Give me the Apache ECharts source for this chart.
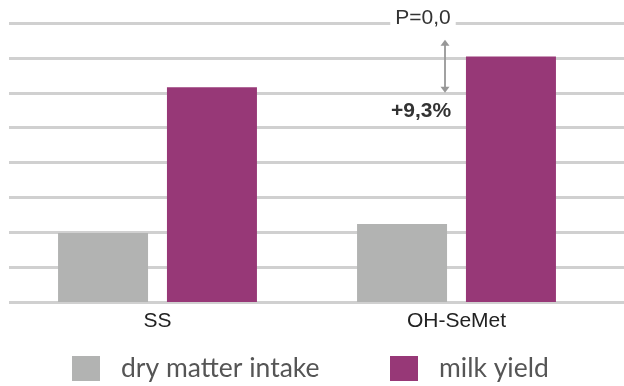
<!DOCTYPE html>
<html>
<head>
<meta charset="utf-8">
<style>
  html, body { margin: 0; padding: 0; background: #fff; }
  #chart { width: 624px; height: 386px; }
</style>
<script src="https://cdn.jsdelivr.net/npm/echarts@6/dist/echarts.min.js"></script>
</head>
<body>
<div id="chart"></div>
<script>
// Groups and series values
const categories = ['SS', 'OH-SeMet'];
const dryMatterIntake = [9.9, 11.2];
const milkYield = [30.8, 35.2];
const seriesNames = ['dry matter intake', 'milk yield'];

// Value scale (no tick labels are shown)
const axisMin = 0;
const axisMax = 40;
const axisInterval = 5;

// Difference annotation on the OH-SeMet group: arrow from/to values and texts
const diffAnnotation = [['OH-SeMet', 37.6, 30, 40]];
const diffTopText = 'P=0,0';
const diffText = '+9,3%';

const colors = ['#b2b3b2', '#973877'];
const labelFont = '"Liberation Sans", Arial, sans-serif';
const legendFont = 'Lato, "Liberation Sans", sans-serif';

const chart = echarts.init(document.getElementById('chart'), null, { renderer: 'canvas' });

function renderDiff(params, api) {
  const c = api.value(0);
  const top = api.coord([c, api.value(1)]);
  const bottom = api.coord([c, api.value(2)]);
  const textLine = api.coord([c, api.value(3)]);
  const x = top[0] - 11.5;
  const head = 6, half = 4.5;
  const stroke = '#979797';
  return {
    type: 'group',
    children: [
      {
        type: 'line',
        shape: { x1: x, y1: top[1] + head - 1, x2: x, y2: bottom[1] - head + 1 },
        style: { stroke: stroke, lineWidth: 1.8 }
      },
      {
        type: 'polygon',
        shape: { points: [[x, top[1]], [x - half, top[1] + head], [x + half, top[1] + head]] },
        style: { fill: stroke }
      },
      {
        type: 'polygon',
        shape: { points: [[x, bottom[1]], [x - half, bottom[1] - head], [x + half, bottom[1] - head]] },
        style: { fill: stroke }
      },
      {
        type: 'text',
        style: {
          text: diffTopText,
          x: x - 22, y: textLine[1] - 5,
          align: 'center', verticalAlign: 'middle',
          font: '21px ' + labelFont,
          fill: '#333',
          backgroundColor: '#fff',
          padding: [0, 5]
        }
      },
      {
        type: 'text',
        style: {
          text: diffText,
          x: x - 24, y: bottom[1] + 18,
          align: 'center', verticalAlign: 'middle',
          font: 'bold 21px ' + labelFont,
          fill: '#333'
        }
      }
    ]
  };
}

const legendText = { fontFamily: legendFont, fontSize: 26.5, color: '#555', padding: [0, 0, 0, 16] };

chart.setOption({
  animation: false,
  backgroundColor: '#fff',
  color: colors,
  grid: [
    { left: 8, width: 598, top: 23, height: 279 },
    { left: 9, right: 0, top: 23, height: 279 }
  ],
  legend: [
    {
      data: [seriesNames[0]], left: 72, top: 355, padding: 0,
      icon: 'rect', itemWidth: 28, itemHeight: 25, textStyle: legendText
    },
    {
      data: [seriesNames[1]], left: 390, top: 355, padding: 0,
      icon: 'rect', itemWidth: 28, itemHeight: 25, textStyle: legendText
    }
  ],
  xAxis: [
    {
      type: 'category', gridIndex: 0, data: categories,
      axisLine: { show: false }, axisTick: { show: false },
      axisLabel: { margin: 9, fontFamily: labelFont, fontSize: 21, color: '#222' }
    },
    { type: 'value', gridIndex: 1, show: false, min: 0, max: 1 }
  ],
  yAxis: [
    {
      type: 'value', gridIndex: 0, min: axisMin, max: axisMax, interval: axisInterval,
      show: false, splitLine: { show: false }
    },
    {
      type: 'value', gridIndex: 1, min: axisMin, max: axisMax, interval: axisInterval,
      axisLine: { show: false }, axisTick: { show: false }, axisLabel: { show: false },
      splitLine: { show: true, lineStyle: { color: '#d0d0d0', width: 3 } }
    }
  ],
  series: [
    {
      name: seriesNames[0], type: 'bar', xAxisIndex: 0, yAxisIndex: 0,
      data: dryMatterIntake, barWidth: 90, barGap: '21%'
    },
    {
      name: seriesNames[1], type: 'bar', xAxisIndex: 0, yAxisIndex: 0,
      data: milkYield, barWidth: 90, barGap: '21%'
    },
    {
      type: 'custom', xAxisIndex: 0, yAxisIndex: 0, z: 5,
      data: diffAnnotation, renderItem: renderDiff, silent: true
    }
  ]
});
</script>
</body>
</html>
